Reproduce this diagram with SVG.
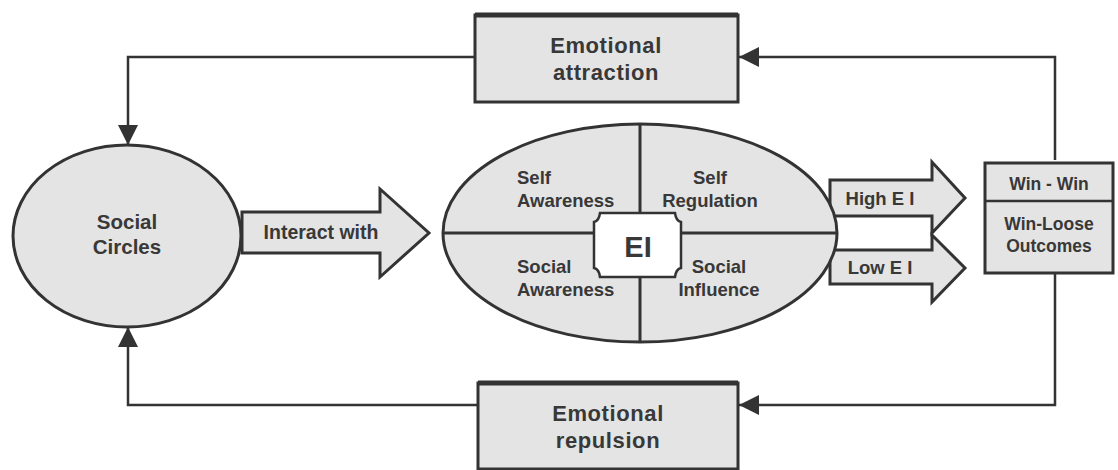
<svg xmlns="http://www.w3.org/2000/svg" width="1118" height="470" viewBox="0 0 1118 470">
<style>
.s{fill:#e4e4e4;stroke:#333;stroke-width:3}
.l{fill:none;stroke:#333;stroke-width:2.5}
text{font-family:"Liberation Sans",Arial,sans-serif;font-weight:bold;fill:#383838;font-size:18.5px}
.c{text-anchor:middle}
.big{font-size:22px;letter-spacing:0.6px}
</style>
<defs>
<marker id="ah" viewBox="0 0 10 10" refX="10" refY="5" markerWidth="8" markerHeight="8" markerUnits="strokeWidth" orient="auto">
<path d="M0,0 L10,5 L0,10 z" fill="#333"/>
</marker>
</defs>
<g id="connectors">
<path class="l" d="M475,57 H128 V145" marker-end="url(#ah)"/>
<path class="l" d="M1055,160 V57 H739" marker-end="url(#ah)"/>
<path class="l" d="M478,405 H128 V327" marker-end="url(#ah)"/>
<path class="l" d="M1055,274 V405 H739" marker-end="url(#ah)"/>
</g>
<g id="attraction">
<rect class="s" x="475" y="15" width="263" height="87"/>
<line x1="475" y1="15" x2="738" y2="15" stroke="#333" stroke-width="5"/>
<text class="c big" x="606" y="53">Emotional</text>
<text class="c big" x="606" y="80">attraction</text>
</g>
<g id="repulsion">
<rect class="s" x="478" y="383" width="260" height="86"/>
<line x1="478" y1="383" x2="738" y2="383" stroke="#333" stroke-width="5"/>
<text class="c big" x="608" y="421">Emotional</text>
<text class="c big" x="608" y="448">repulsion</text>
</g>
<g id="social-circles">
<ellipse class="s" cx="127" cy="236" rx="114" ry="91"/>
<text class="c" x="127" y="229" style="font-size:20.5px">Social</text>
<text class="c" x="127" y="254" style="font-size:20.5px">Circles</text>
</g>
<g id="interact">
<path class="s" d="M242,212 H380 V189 L429,233 L380,277 V253 H242 Z" stroke-width="2.5"/>
<text class="c" x="321" y="239" style="font-size:19.5px">Interact with</text>
</g>
<g id="high-ei">
<path class="s" d="M830,180 H932 V162 L965,198 L932,233 V216 H830 Z" stroke-width="2.5"/>
<text class="c" x="880" y="205">High E I</text>
</g>
<g id="low-ei">
<path class="s" d="M830,250 H932 V235 L965,268 L932,302 V284 H830 Z" stroke-width="2.5"/>
<text class="c" x="880" y="274">Low E I</text>
</g>
<g id="ei">
<ellipse class="s" cx="640" cy="233" rx="197" ry="109"/>
<line x1="640" y1="124" x2="640" y2="342" stroke="#333" stroke-width="3"/>
<line x1="443" y1="233" x2="837" y2="233" stroke="#333" stroke-width="3"/>
<path d="M600,213 H675 Q676,221 681,222 V268 Q676,269 675,277 H600 Q599,269 594,268 V222 Q599,221 600,213 Z" fill="#fff" stroke="#333" stroke-width="2.5"/>
<text class="c" x="638" y="257" style="font-size:29px">EI</text>
<text x="517" y="184">Self</text>
<text x="517" y="207">Awareness</text>
<text class="c" x="710" y="184">Self</text>
<text class="c" x="710" y="207">Regulation</text>
<text x="517" y="273">Social</text>
<text x="517" y="296">Awareness</text>
<text class="c" x="719" y="273">Social</text>
<text class="c" x="719" y="296">Influence</text>
</g>
<g id="outcomes">
<rect class="s" x="985" y="163" width="128" height="110" stroke-width="2.5"/>
<line x1="985" y1="201" x2="1113" y2="201" stroke="#333" stroke-width="2.5"/>
<text class="c" x="1049" y="190" style="font-size:17.5px">Win - Win</text>
<text class="c" x="1049" y="230" style="font-size:17.5px">Win-Loose</text>
<text class="c" x="1049" y="252" style="font-size:17.5px">Outcomes</text>
</g>
</svg>
